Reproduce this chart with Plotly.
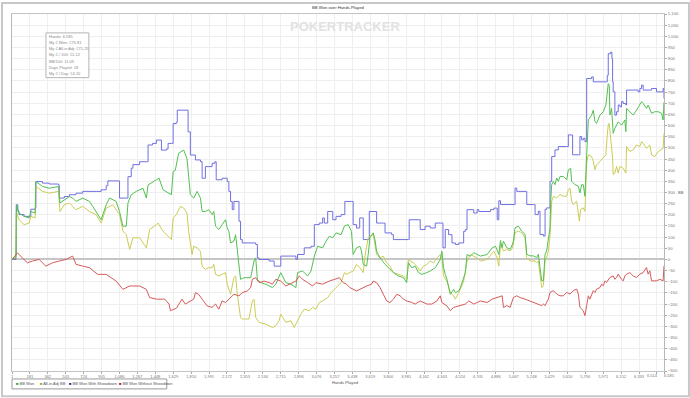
import plotly.graph_objects as go

# ---------------- data (hands, BB) ----------------
blue_hands = [1, 40, 45, 60, 72, 123, 174, 191, 235, 242, 309, 377, 471, 478, 529, 580, 647, 715, 850, 901, 952, 969, 1053, 1087, 1155, 1172, 1205, 1222, 1290, 1358, 1375, 1420, 1459, 1486, 1510, 1560, 1577, 1611, 1628, 1660, 1670,
              1768, 1779, 1802, 1853, 1904, 1921, 1954, 2022, 2049, 2063, 2123, 2174, 2191, 2208, 2225, 2242, 2293, 2309, 2326, 2462, 2479, 2496, 2597, 2648, 2715, 2817, 2868, 2884, 2952, 3020, 3054, 3104, 3138, 3155, 3189, 3240, 3273, 3324,
              3362, 3429, 3446, 3480, 3512, 3548, 3598, 3609, 3666, 3683, 3751, 3768, 3835, 3852, 4004, 4012, 4106, 4123, 4173, 4224, 4275, 4342, 4353, 4376, 4410, 4444, 4478, 4512, 4562, 4579, 4596, 4664, 4698, 4715, 4833, 4867, 4901, 4917, 4934,
              5081, 5098, 5182, 5199, 5266, 5283, 5316, 5333, 5367, 5384, 5400, 5434, 5451, 5484, 5518, 5602, 5619, 5652, 5662, 5720, 5736, 5753, 5770, 5787, 5804, 5854, 5871, 6005, 6012, 6022, 6046, 6059, 6066, 6072, 6089, 6106, 6123, 6140, 6156, 6173, 6200, 6207, 6274, 6324, 6341, 6358, 6375, 6442, 6459, 6509, 6560, 6576, 6585]
blue_bb = [0, 20, 245, 215, 201, 193, 193, 225, 230, 349, 342, 338, 334, 275, 282, 290, 297, 305, 305, 312, 330, 352, 352, 275, 275, 371, 409, 425, 438, 438, 513, 520, 535, 535, 490, 495, 520, 520, 609, 615, 669,
           669, 572, 468, 446, 438, 364, 416, 431, 438, 357, 364, 349, 305, 260, 223, 260, 171, 89, 74, 67, 7, 0, -7, -30, 15, 15, 0, 22, 52, 59, 156, 163, 186, 163, 215, 178, 193, 201,
           260, 260, 156, 141, 186, 89, 89, 215, 215, 163, 163, 119, 111, 89, 89, 178, 178, 134, 149, 141, 163, 163, 52, 134, 111, 74, 67, 74, 126, 134, 223, 208, 223, 215, 223, 230, 178, 263, 246,
           320, 305, 305, 246, 246, 201, 216, 112, 105, 224, 231, 350, 461, 491, 506, 506, 558, 558, 469, 469, 551, 536, 543, 528, 811, 818, 796, 796, 825, 922, 929, 900, 796, 751, 647, 662, 692, 684, 707, 699, 692, 759, 759, 751, 766, 781, 759, 759, 766, 751, 751, 766, 721]

green_hands = [1, 40, 45, 72, 123, 174, 191, 235, 242, 309, 377, 471, 485, 529, 580, 614, 647, 715, 783, 816, 850, 884, 901, 952, 986, 1053, 1087, 1121, 1155, 1172, 1205, 1256, 1324, 1358, 1375, 1459, 1486, 1527, 1611, 1628,
               1650, 1684, 1735, 1768, 1785, 1802, 1836, 1870, 1904, 1921, 1954, 1988, 2022, 2039, 2056, 2090, 2123, 2157, 2174, 2191, 2208, 2242, 2259, 2276, 2309, 2343, 2411, 2445, 2462, 2479, 2512, 2563, 2597, 2631, 2665, 2698, 2715, 2766, 2817, 2868, 2884, 2935, 2986, 3020, 3054, 3087, 3138, 3172, 3206, 3240, 3273, 3324, 3358,
               3396, 3429, 3446, 3480, 3514, 3531, 3548, 3582, 3598, 3615, 3649, 3666, 3683, 3717, 3768, 3818, 3852, 3903, 3954, 3987, 4004, 4038, 4072, 4106, 4140, 4190, 4224, 4275, 4326, 4342, 4359, 4376, 4393, 4427, 4461, 4478, 4512, 4529, 4562, 4579, 4596, 4630, 4664, 4698, 4731, 4799, 4850, 4884, 4917,
               4934, 4950, 4964, 4997, 5031, 5048, 5064, 5081, 5115, 5148, 5182, 5199, 5232, 5266, 5300, 5316, 5333, 5350, 5367, 5384, 5400, 5417, 5434, 5441, 5451, 5468, 5484, 5501, 5518, 5535, 5568, 5602, 5619, 5642, 5652, 5686, 5720, 5736, 5753, 5770, 5787, 5804, 5821, 5854, 5871, 5888, 5904, 5938, 5955, 5972, 5998, 6012, 6022, 6032, 6039, 6056, 6066, 6072, 6089, 6123, 6156, 6190, 6200, 6207, 6240, 6274, 6308, 6341, 6358, 6375, 6408, 6425, 6459, 6492, 6526, 6560, 6576, 6585]
green_bb = [0, 10, 245, 208, 193, 186, 215, 208, 349, 327, 319, 327, 253, 267, 282, 275, 260, 275, 260, 238, 215, 193, 178, 245, 275, 260, 215, 149, 149, 253, 290, 305, 319, 275, 334, 357, 364, 312, 290, 394,
            400, 476, 490, 453, 379, 290, 275, 305, 275, 215, 215, 223, 201, 215, 149, 134, 156, 178, 141, 126, 74, 82, 111, 52, -89, -82, -82, -7, 7, -89, -104, -111, -119, -126, -111, -74, -59, -104, -111, -126, -59, -52, -74, -52, 15, 59, 52, 82, 104, 97, 119, 111, 150,
            156, 126, 22, 52, 59, 37, -22, -30, 22, 97, 119, 89, 37, 7, -22, -45, -59, -74, -82, -104, -15, -37, -30, -59, -67, -59, -52, -37, 0, 37, -37, -67, -89, -156, -134, -149, -141, -126, -82, -59, 22, 15, 30, 22, 15, 22, 52, 59, 22,
            85, 53, 82, 53, 45, 60, 82, 142, 149, 127, 112, 23, 16, 16, 8, 23, -36, -95, -95, 23, 38, 82, 142, 261, 335, 350, 335, 365, 350, 372, 372, 357, 402, 409, 350, 335, 328, 298, 335, 335, 283, 469, 625, 647, 669, 617, 610, 647, 655, 662, 692, 736, 788, 781, 647, 677, 617, 565, 588, 617, 602, 625, 573, 677, 662, 647, 669, 692, 707, 699, 677, 692, 655, 662, 662, 655, 625, 705]

yellow_hands = [1, 40, 45, 72, 123, 174, 191, 235, 242, 309, 377, 471, 485, 529, 580, 647, 715, 783, 850, 901, 952, 1019, 1087, 1121, 1155, 1189, 1222, 1290, 1358, 1391, 1459, 1476, 1527, 1611, 1628, 1662,
                1684, 1701, 1735, 1768, 1785, 1802, 1819, 1836, 1870, 1904, 1921, 1954, 1988, 2022, 2039, 2056, 2090, 2123, 2157, 2174, 2208, 2242, 2259, 2276, 2309, 2326, 2394, 2428, 2445, 2462, 2496, 2563, 2631, 2665, 2698, 2715, 2766, 2817, 2851, 2884, 2918, 2952, 3003, 3037, 3070, 3104, 3138, 3189, 3223, 3273, 3324, 3358,
                3379, 3412, 3446, 3480, 3514, 3548, 3565, 3598, 3615, 3649, 3666, 3683, 3717, 3751, 3784, 3818, 3852, 3903, 3954, 3987, 4004, 4021, 4055, 4089, 4123, 4156, 4190, 4224, 4258, 4292, 4326, 4342, 4359, 4393, 4427, 4461, 4478, 4512, 4529, 4562, 4596, 4630, 4664, 4698, 4731, 4799, 4867, 4901, 4917, 4934,
                4964, 4997, 5031, 5048, 5064, 5081, 5115, 5148, 5182, 5199, 5232, 5283, 5300, 5316, 5333, 5350, 5367, 5384, 5400, 5417, 5434, 5444, 5451, 5468, 5501, 5535, 5568, 5602, 5619, 5636, 5652, 5669, 5703, 5730, 5743, 5770, 5787, 5804, 5821, 5854, 5871, 5888, 5904, 5938, 5972, 5998, 6012, 6022, 6032, 6046, 6056, 6066, 6072, 6089, 6106, 6123, 6140, 6173, 6200, 6207, 6240, 6274, 6308, 6341, 6358, 6375, 6408, 6442, 6459, 6492, 6526, 6560, 6576, 6585]
yellow_bb = [0, 10, 215, 178, 156, 163, 193, 186, 327, 305, 297, 305, 215, 245, 253, 223, 238, 215, 201, 163, 230, 245, 201, 126, 111, 45, 97, 97, 52, 134, 156, 163, 126, 89, 186, 201,
             223, 238, 230, 208, 126, 74, 22, 59, 52, 37, -30, -45, -37, -37, -22, -67, -74, -67, -59, -111, -156, -82, -74, -156, -260, -267, -267, -186, -178, -260, -282, -290, -305, -297, -275, -245, -282, -275, -305, -275, -245, -223, -230, -215, -223, -193, -186, -171, -149, -126, -104, -59,
             -67, -59, -52, -22, -37, -59, 15, 97, 104, 111, 74, 22, 7, 15, -15, -30, -59, -67, -74, -89, 0, -7, -15, -30, -52, -30, -22, -7, -15, 7, 22, 7, -74, -97, -149, -163, -178, -149, -134, -97, -7, 22, 15, 7, -7, 0, 37, 7, -30, 67,
             38, 45, 38, 45, 68, 120, 127, 120, 97, 8, -7, -7, -14, -7, -66, -126, -118, -7, 8, 38, 105, 216, 261, 283, 276, 291, 283, 283, 313, 320, 261, 246, 261, 172, 224, 231, 216, 432, 469, 461, 439, 402, 424, 439, 454, 469, 558, 603, 610, 543, 528, 454, 380, 387, 417, 387, 417, 409, 387, 506, 484, 491, 513, 506, 528, 521, 498, 513, 469, 461, 484, 491, 498, 565]

red_hands = [1, 56, 106, 157, 208, 275, 343, 411, 478, 546, 614, 647, 715, 783, 867, 952, 1053, 1121, 1189, 1290, 1358, 1391, 1459, 1543, 1587, 1601, 1662,
             1718, 1751, 1802, 1836, 1853, 1885, 1921, 1971, 2022, 2056, 2090, 2123, 2157, 2191, 2242, 2293, 2326, 2377, 2411, 2428, 2462, 2496, 2546, 2597, 2631, 2665, 2715, 2766, 2800, 2868, 2901, 2935, 2986, 3037, 3070, 3138, 3206, 3256, 3307,
             3345, 3379, 3412, 3446, 3480, 3514, 3548, 3582, 3632, 3649, 3683, 3717, 3751, 3784, 3818, 3852, 3886, 3920, 3954, 3987, 4038, 4072, 4123, 4190, 4241, 4292, 4326, 4342, 4393, 4427, 4461, 4529, 4579, 4613, 4664, 4731, 4799, 4850, 4901, 4951,
             4964, 4997, 5031, 5064, 5098, 5132, 5182, 5232, 5300, 5350, 5367, 5384, 5417, 5434, 5468, 5501, 5535, 5568, 5602, 5636, 5669, 5703, 5720, 5736, 5770, 5787, 5804, 5821, 5837, 5854, 5871, 5888, 5904, 5938, 5955, 5972, 5988, 6005, 6039, 6072, 6089, 6106, 6123, 6156, 6173, 6190, 6207, 6240, 6274, 6308, 6341, 6375, 6408, 6425, 6442, 6459, 6509, 6543, 6576, 6585]
red_bb = [0, 30, 7, -15, -7, 0, -30, -15, -7, 0, 15, -22, -30, -37, -67, -67, -97, -134, -119, -119, -134, -171, -178, -178, -200, -230, -218,
          -178, -200, -186, -178, -149, -156, -178, -208, -215, -200, -223, -186, -193, -178, -156, -163, -149, -141, -126, -89, -82, -104, -97, -104, -111, -89, -97, -119, -111, -97, -74, -89, -104, -119, -104, -111, -97, -89, -82,
          -104, -111, -126, -134, -141, -134, -126, -119, -111, -97, -104, -126, -156, -186, -193, -178, -156, -163, -178, -186, -193, -200, -186, -200, -200, -186, -163, -193, -208, -230, -215, -208, -200, -186, -200, -186, -193, -178, -171, -163,
          -215, -207, -215, -171, -163, -171, -178, -186, -200, -207, -200, -207, -178, -148, -140, -155, -163, -163, -148, -155, -140, -133, -155, -215, -230, -252, -207, -163, -178, -155, -140, -148, -133, -126, -111, -118, -96, -103, -81, -74, -89, -81, -66, -89, -96, -74, -66, -59, -74, -81, -66, -59, -36, -66, -51, -96, -96, -89, -96, -29]

x_tick_vals = [1, 181, 362, 543, 724, 905, 1086, 1267, 1448, 1629, 1810, 1991, 2172, 2353, 2534, 2715, 2896, 3076, 3257, 3438, 3619, 3800, 3981, 4162, 4343, 4524, 4705, 4886, 5067, 5248, 5429, 5610, 5790, 5971, 6152, 6333, 6514, 6585]
x_tick_text = ["1", "181", "362", "543", "724", "905", "1,086", "1,267", "1,448", "1,629", "1,810", "1,991", "2,172", "2,353", "2,534", "2,715", "2,896", "3,076", "3,257", "3,438", "3,619", "3,800", "3,981", "4,162", "4,343", "4,524", "4,705", "4,886", "5,067", "5,248", "5,429", "5,610", "5,790", "5,971", "6,152", "6,333", "6,514", "6,585"]

stats_lines = ["Hands: 6,585", "My € Won: €73.81", "My € All-in Adj: €71.25", "My € / 100: €1.12", "BB/100: 11.09", "Days Played: 18", "My € / Day: €4.10"]

series_names = ["BB Won", "All-in Adj BB", "BB Won With Showdown", "BB Won Without Showdown"]
line_colors = ["#52c052", "#cccc55", "#7070e0", "#d65a5a"]
legend_colors = ["#2a9a2a", "#9a9a22", "#1c1c8c", "#9c1c1c"]

# ---------------- figure ----------------
W, H = 690, 398
ML, MR, MT, MB = 11, 26, 12, 27
PW, PH = W - ML - MR, H - MT - MB
FONT = "Liberation Sans"

def px(x):
    return (x - ML) / PW

def py(y):
    return 1 - (y - MT) / PH

fig = go.Figure()
fig.add_trace(go.Scatter(x=blue_hands, y=blue_bb, mode="lines", name=series_names[2],
                         line=dict(color=line_colors[2], width=1, shape="hv")))
fig.add_trace(go.Scatter(x=yellow_hands, y=yellow_bb, mode="lines", name=series_names[1],
                         line=dict(color=line_colors[1], width=1)))
fig.add_trace(go.Scatter(x=green_hands, y=green_bb, mode="lines", name=series_names[0],
                         line=dict(color=line_colors[0], width=1)))
fig.add_trace(go.Scatter(x=red_hands, y=red_bb, mode="lines", name=series_names[3],
                         line=dict(color=line_colors[3], width=1)))

# the last two tick labels sit almost on top of each other; draw them as side-by-side annotations
axis_tick_text = x_tick_text[:-2] + ["", ""]

fig.update_layout(
    width=W, height=H,
    margin=dict(l=ML, r=MR, t=MT, b=MB),
    paper_bgcolor="white", plot_bgcolor="white",
    showlegend=False,
    font=dict(family=FONT, size=4, color="#555555"),
    xaxis=dict(range=[1, 6585], tickmode="array", tickvals=x_tick_vals, ticktext=axis_tick_text,
               tickangle=0,
               showgrid=True, gridcolor="#efefef", gridwidth=1, zeroline=False,
               showline=True, linecolor="#c4c4c4", linewidth=1, mirror=True,
               ticks="outside", ticklen=1.5, tickcolor="#aaaaaa",
               tickfont=dict(family=FONT, size=4, color="#777777")),
    yaxis=dict(range=[-500, 1100], dtick=50, tick0=0, tickformat=",d", side="right",
               showgrid=True, gridcolor="#efefef", gridwidth=1,
               zeroline=True, zerolinecolor="#c6c6c6", zerolinewidth=2,
               showline=True, linecolor="#b8b8b8", linewidth=1, mirror=True,
               ticks="outside", ticklen=2, tickcolor="#aaaaaa",
               tickfont=dict(family=FONT, size=4.2, color="#777777")),
)

shapes = []
# outer frame of the picture
shapes.append(dict(type="rect", xref="paper", yref="paper", x0=px(1), x1=px(689), y0=py(396.5), y1=py(1),
                   line=dict(color="#c8c8c8", width=2), fillcolor="rgba(0,0,0,0)", layer="above"))
# stats box
shapes.append(dict(type="rect", xref="paper", yref="paper", x0=px(45), x1=px(88), y0=py(76), y1=py(31),
                   line=dict(color="#b4b4b4", width=1), fillcolor="white", layer="above"))
# legend box
shapes.append(dict(type="rect", xref="paper", yref="paper", x0=px(11), x1=px(166), y0=py(389), y1=py(379),
                   line=dict(color="#9a9a9a", width=1), fillcolor="white", layer="above"))
fig.update_layout(shapes=shapes)

annotations = []
annotations.append(dict(text=x_tick_text[-2], xref="x", yref="paper", x=x_tick_vals[-2], y=py(375.3),
                        showarrow=False, font=dict(family=FONT, size=4, color="#777777"),
                        xanchor="right", yanchor="middle", xshift=3))
annotations.append(dict(text=x_tick_text[-1], xref="x", yref="paper", x=x_tick_vals[-1], y=py(375.3),
                        showarrow=False, font=dict(family=FONT, size=4, color="#777777"),
                        xanchor="left", yanchor="middle", xshift=-2))
annotations.append(dict(text="BB Won over Hands Played", xref="paper", yref="paper", x=0.5, y=py(5),
                        showarrow=False, font=dict(family=FONT, size=4.2, color="#333333"),
                        xanchor="center", yanchor="middle"))
annotations.append(dict(text="<b>POKERTRACKER</b>", xref="paper", yref="paper", x=px(345), y=py(25),
                        showarrow=False, font=dict(size=13, color="#e2e2e2", family=FONT),
                        xanchor="center", yanchor="middle"))
annotations.append(dict(text="Hands Played", xref="paper", yref="paper", x=px(345), y=py(382.5),
                        showarrow=False, font=dict(family=FONT, size=4.2, color="#555555"),
                        xanchor="center", yanchor="middle"))
annotations.append(dict(text="BB", xref="paper", yref="paper", x=px(681), y=py(192),
                        showarrow=False, font=dict(family=FONT, size=4, color="#555555"),
                        xanchor="center", yanchor="middle"))
for i, line in enumerate(stats_lines):
    annotations.append(dict(text=line, xref="paper", yref="paper", x=px(46.5), y=py(34.5 + i * 6.2),
                            showarrow=False, align="left", font=dict(family=FONT, size=4, color="#8a8a8a"),
                            xanchor="left", yanchor="middle"))
legend_x = [13, 37, 66.5, 116]
for name, col, lx in zip(series_names, legend_colors, legend_x):
    annotations.append(dict(text=f"<span style='color:{col}'>■</span> {name}", xref="paper", yref="paper",
                            x=px(lx), y=py(384), showarrow=False, font=dict(family=FONT, size=4, color="#555555"),
                            xanchor="left", yanchor="middle"))
fig.update_layout(annotations=annotations)

fig.write_html("out.html", config={"displayModeBar": False},
               post_script="document.body.style.margin='0px';document.body.style.overflow='hidden';")
